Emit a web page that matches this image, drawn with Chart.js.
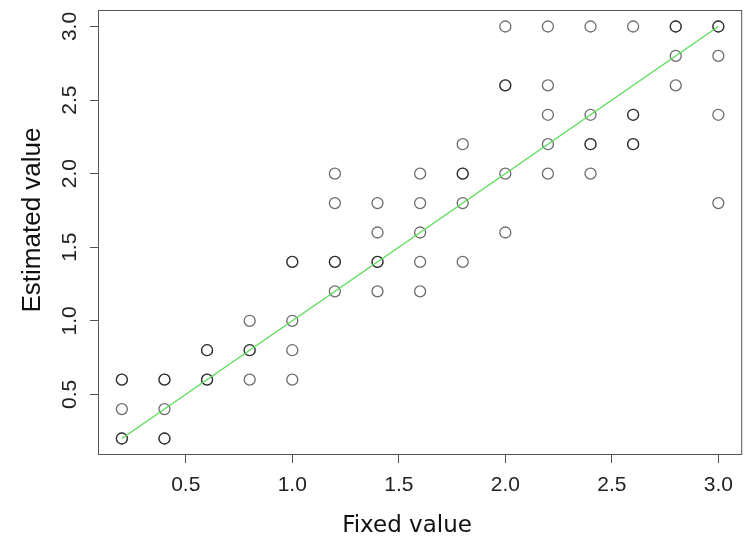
<!DOCTYPE html>
<html>
<head>
<meta charset="utf-8">
<script src="https://cdn.jsdelivr.net/npm/chart.js@4.4.0/dist/chart.umd.min.js"></script>
<style>
  html, body { margin: 0; padding: 0; background: #fff; }
  #wrap { width: 749px; height: 539px; }
</style>
</head>
<body>
<div id="wrap"><canvas id="scatter" width="749" height="539"></canvas></div>
<script>
// fixed value (x) vs estimated value (y), one entry per plotted circle
const fixedValues = [
    0.2, 0.2, 0.2, 0.2, 0.2,
    0.4, 0.4, 0.4, 0.4, 0.4,
    0.6, 0.6, 0.6, 0.6,
    0.8, 0.8, 0.8, 0.8,
    1.0, 1.0, 1.0, 1.0, 1.0,
    1.2, 1.2, 1.2, 1.2, 1.2,
    1.4, 1.4, 1.4, 1.4, 1.4,
    1.6, 1.6, 1.6, 1.6, 1.6,
    1.8, 1.8, 1.8, 1.8, 1.8,
    2.0, 2.0, 2.0, 2.0, 2.0,
    2.2, 2.2, 2.2, 2.2, 2.2,
    2.4, 2.4, 2.4, 2.4, 2.4,
    2.6, 2.6, 2.6, 2.6, 2.6,
    2.8, 2.8, 2.8, 2.8,
    3.0, 3.0, 3.0, 3.0, 3.0
];
const estimatedValues = [
    0.6, 0.6, 0.4, 0.2, 0.2,
    0.6, 0.6, 0.4, 0.2, 0.2,
    0.8, 0.8, 0.6, 0.6,
    1.0, 0.8, 0.8, 0.6,
    1.4, 1.4, 1.0, 0.8, 0.6,
    2.0, 1.8, 1.4, 1.4, 1.2,
    1.8, 1.6, 1.4, 1.4, 1.2,
    2.0, 1.8, 1.6, 1.4, 1.2,
    2.2, 2.0, 2.0, 1.8, 1.4,
    3.0, 2.6, 2.6, 2.0, 1.6,
    3.0, 2.6, 2.4, 2.2, 2.0,
    3.0, 2.4, 2.2, 2.2, 2.0,
    3.0, 2.4, 2.4, 2.2, 2.2,
    3.0, 3.0, 2.8, 2.6,
    3.0, 3.0, 2.8, 2.4, 1.8
];

// identity line
const lineX = [0.2, 3.0];
const lineY = [0.2, 3.0];

const xTicks = [0.5, 1.0, 1.5, 2.0, 2.5, 3.0];
const yTicks = [0.5, 1.0, 1.5, 2.0, 2.5, 3.0];
const axisMin = 0.088, axisMax = 3.112;

const xTitle = 'Fixed value';
const yTitle = 'Estimated value';

// R style box + axis titles
const boxAndTitles = {
    id: 'boxAndTitles',
    afterDraw(chart) {
        const {ctx, chartArea: a} = chart;
        ctx.save();
        ctx.strokeStyle = '#555';
        ctx.lineWidth = 1;
        ctx.strokeRect(a.left + 0.5, a.top + 0.5, a.right - a.left - 1, a.bottom - a.top - 1);

        ctx.fillStyle = '#111';
        ctx.textAlign = 'center';
        ctx.textBaseline = 'middle';
        ctx.font = '23px "DejaVu Sans"';
        ctx.fillText(xTitle, 407, 526);

        ctx.translate(33, 220);
        ctx.rotate(-Math.PI / 2);
        ctx.font = '26px "Liberation Sans"';
        ctx.fillText(yTitle, 0, 0);
        ctx.restore();
    }
};

document.addEventListener('DOMContentLoaded', () => {
    const points = fixedValues.map((x, i) => ({ x: x, y: estimatedValues[i] }));
    const line = lineX.map((x, i) => ({ x: x, y: lineY[i] }));
    const tickFont = { family: '"Liberation Sans", Arial, sans-serif', size: 21 };

    new Chart(document.getElementById('scatter'), {
        type: 'scatter',
        data: {
            datasets: [
                {
                    data: points,
                    pointStyle: 'circle',
                    pointRadius: 5.5,
                    pointBorderWidth: 1.3,
                    pointBorderColor: 'rgba(0,0,0,0.58)',
                    pointBackgroundColor: 'rgba(0,0,0,0)',
                    order: 1
                },
                {
                    type: 'line',
                    data: line,
                    borderColor: 'rgb(90,220,90)',
                    borderWidth: 1.4,
                    pointRadius: 0,
                    fill: false,
                    order: 0
                }
            ]
        },
        options: {
            responsive: false,
            animation: false,
            devicePixelRatio: 1,
            layout: { padding: { top: 10, right: 5, left: 0, bottom: 0 } },
            plugins: {
                legend: { display: false },
                tooltip: { enabled: false }
            },
            scales: {
                x: {
                    type: 'linear',
                    min: axisMin,
                    max: axisMax,
                    afterBuildTicks: (s) => { s.ticks = xTicks.map((v) => ({ value: v })); },
                    afterFit: (s) => { s.height = 84; s.paddingLeft = 0; s.paddingRight = 0; },
                    grid: { drawOnChartArea: false, drawTicks: true, tickLength: 8, color: '#555' },
                    border: { display: false },
                    ticks: {
                        font: tickFont,
                        color: '#222',
                        padding: 10,
                        maxRotation: 0,
                        autoSkip: false,
                        callback: (v) => v.toFixed(1)
                    }
                },
                y: {
                    type: 'linear',
                    min: axisMin,
                    max: axisMax,
                    afterBuildTicks: (s) => { s.ticks = yTicks.map((v) => ({ value: v })); },
                    afterFit: (s) => { s.width = 98; s.paddingTop = 0; s.paddingBottom = 0; },
                    grid: { drawOnChartArea: false, drawTicks: true, tickLength: 8, color: '#555' },
                    border: { display: false },
                    ticks: {
                        font: tickFont,
                        color: '#222',
                        padding: 5,
                        minRotation: 90,
                        maxRotation: 90,
                        crossAlign: 'center',
                        autoSkip: false,
                        callback: (v) => v.toFixed(1)
                    }
                }
            }
        },
        plugins: [boxAndTitles]
    });
});
</script>
</body>
</html>
